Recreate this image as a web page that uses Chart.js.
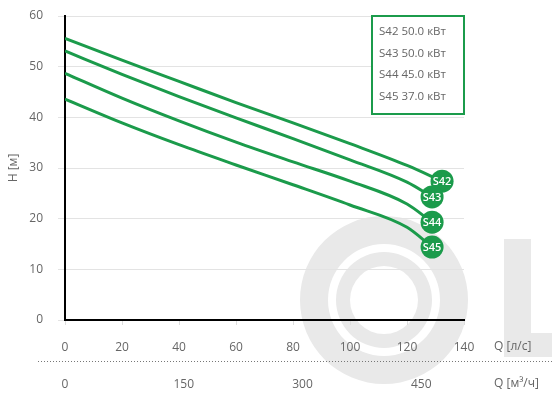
<!DOCTYPE html>
<html>
<head>
<meta charset="utf-8">
<script src="https://cdn.jsdelivr.net/npm/chart.js@4/dist/chart.umd.min.js"></script>
<style>
  html, body { margin: 0; padding: 0; background: #fff; }
  #wrap { width: 552px; height: 394px; }
</style>
</head>
<body>
<div id="wrap"><canvas id="pumpChart" width="552" height="394"></canvas></div>
<script>
// --- data ---
const pumpNames = ['S42', 'S43', 'S44', 'S45'];
const pumpPower = ['50.0', '50.0', '45.0', '37.0'];

const flowS42 = [0, 20, 40, 60, 80, 100, 120, 132.3];
const headS42 = [55.6, 51.3, 47.1, 42.9, 38.9, 34.8, 30.5, 27.4];
const flowS43 = [0, 20, 40, 60, 80, 100, 120, 128.8];
const headS43 = [53.1, 48.5, 44.1, 39.9, 35.8, 31.6, 27.2, 24.3];
const flowS44 = [0, 20, 40, 60, 80, 100, 120, 128.8];
const headS44 = [48.7, 43.8, 39.3, 35.1, 31.2, 27.4, 22.9, 19.3];
const flowS45 = [0, 20, 40, 60, 80, 100, 120, 128.8];
const headS45 = [43.6, 38.9, 34.6, 30.6, 26.7, 22.7, 18.3, 14.4];

const flowTicksLs = [0, 20, 40, 60, 80, 100, 120, 140];   // Q [л/с]
const flowTicksM3h = [0, 150, 300, 450];                    // Q [м³/ч]
const headTicks = [0, 10, 20, 30, 40, 50, 60];             // H [м]

const GREEN = '#1b9b4b';
const TXT = '#666';
const FONT = '"Open Sans", "Noto Sans", sans-serif';

const flows = [flowS42, flowS43, flowS44, flowS45];
const heads = [headS42, headS43, headS44, headS45];

function toPoints(q, h) {
  return q.map((v, i) => ({ x: v, y: h[i] }));
}

const datasets = pumpNames.map((name, i) => {
  const n = flows[i].length;
  return {
    label: name,
    data: toPoints(flows[i], heads[i]),
    borderColor: GREEN,
    backgroundColor: GREEN,
    borderWidth: 3,
    cubicInterpolationMode: 'monotone',
    pointRadius: flows[i].map((_, k) => (k === n - 1 ? 11.5 : 0)),
    pointHoverRadius: flows[i].map((_, k) => (k === n - 1 ? 11.5 : 0)),
    pointBorderWidth: 0,
    pointBackgroundColor: GREEN,
    order: pumpNames.length - i
  };
});

// --- decoration: background logo, legend box, extra axis texts ---
const decor = {
  id: 'decor',
  beforeDraw(chart) {
    const ctx = chart.ctx;
    ctx.save();
    ctx.fillStyle = '#fff';
    ctx.fillRect(0, 0, chart.width, chart.height);
    // faint logo in the background
    ctx.fillStyle = '#e9e9e9';
    const cx = 384, cy = 300;
    ctx.beginPath();
    ctx.arc(cx, cy, 84, 0, Math.PI * 2);
    ctx.arc(cx, cy, 56, 0, Math.PI * 2, true);
    ctx.fill();
    ctx.beginPath();
    ctx.arc(cx, cy, 48, 0, Math.PI * 2);
    ctx.arc(cx, cy, 34, 0, Math.PI * 2, true);
    ctx.fill();
    ctx.fillRect(504, 239, 27, 118);
    ctx.fillRect(504, 333, 60, 24);
    ctx.restore();
  },
  afterDatasetsDraw(chart) {
    const ctx = chart.ctx;
    ctx.save();
    ctx.fillStyle = '#fff';
    ctx.font = '600 11px ' + FONT;
    ctx.textAlign = 'center';
    ctx.textBaseline = 'middle';
    chart.data.datasets.forEach((ds, i) => {
      const meta = chart.getDatasetMeta(i);
      const last = meta.data[meta.data.length - 1];
      ctx.fillText(pumpNames[i], last.x, last.y + 1);
    });
    ctx.restore();
  },
  afterDraw(chart) {
    const ctx = chart.ctx;
    const area = chart.chartArea;
    ctx.save();
    ctx.font = '12px ' + FONT;
    ctx.fillStyle = TXT;
    ctx.textAlign = 'left';
    ctx.textBaseline = 'middle';
    ctx.fillText('Q [л/с]', area.right + 30, 347);
    ctx.fillText('Q [м³/ч]', area.right + 30, 384);

    // dotted separator between the two flow scales
    ctx.strokeStyle = '#777';
    ctx.lineWidth = 1;
    ctx.setLineDash([1, 2]);
    ctx.beginPath();
    ctx.moveTo(38, 361.5);
    ctx.lineTo(552, 361.5);
    ctx.stroke();
    ctx.setLineDash([]);

    // legend box
    const bx = 372, by = 16, bw = 92, bh = 98;
    ctx.fillStyle = '#fff';
    ctx.fillRect(bx, by, bw, bh);
    ctx.strokeStyle = GREEN;
    ctx.lineWidth = 2;
    ctx.strokeRect(bx, by, bw, bh);
    ctx.fillStyle = TXT;
    ctx.font = '11.5px ' + FONT;
    pumpNames.forEach((name, i) => {
      ctx.fillText(name + ' ' + pumpPower[i] + ' кВт', bx + 7, by + 16 + i * 21.5);
    });
    ctx.restore();
  }
};

const ctx = document.getElementById('pumpChart').getContext('2d');
new Chart(ctx, {
  type: 'line',
  data: { datasets: datasets },
  plugins: [decor],
  options: {
    responsive: false,
    animation: false,
    devicePixelRatio: 1,
    layout: { padding: { top: 16, right: 88, left: 0, bottom: 0 } },
    plugins: {
      legend: { display: false },
      tooltip: { enabled: false }
    },
    scales: {
      x: {
        type: 'linear',
        position: 'bottom',
        min: flowTicksLs[0],
        max: flowTicksLs[flowTicksLs.length - 1],
        afterBuildTicks: (s) => { s.ticks = flowTicksLs.map(v => ({ value: v })); },
        ticks: { padding: 15, color: TXT, font: { size: 12, family: FONT }, maxRotation: 0 },
        grid: { drawOnChartArea: false, drawTicks: true, tickLength: 5, color: '#ddd' },
        border: { color: '#000', width: 2 },
        afterFit: (s) => { s.height = 46; }
      },
      x2: {
        type: 'linear',
        position: 'bottom',
        min: 0,
        max: flowTicksLs[flowTicksLs.length - 1] * 3.6,
        afterBuildTicks: (s) => { s.ticks = flowTicksM3h.map(v => ({ value: v })); },
        ticks: { padding: 11, color: TXT, font: { size: 12, family: FONT }, maxRotation: 0 },
        grid: { display: false, drawTicks: false },
        border: { display: false },
        afterFit: (s) => { s.height = 28; }
      },
      y: {
        min: headTicks[0],
        max: headTicks[headTicks.length - 1],
        afterBuildTicks: (s) => { s.ticks = headTicks.map(v => ({ value: v })); },
        ticks: { padding: 15, color: TXT, font: { size: 12, family: FONT } },
        grid: { color: '#e3e3e3', tickLength: 7 },
        border: { color: '#000', width: 2 },
        title: { display: true, text: 'H [м]', color: TXT, font: { size: 12, family: FONT }, padding: { top: 6, bottom: 0 } },
        afterFit: (s) => { s.width = 65; s.paddingTop = 0; s.paddingBottom = 0; }
      }
    }
  }
});
</script>
</body>
</html>
